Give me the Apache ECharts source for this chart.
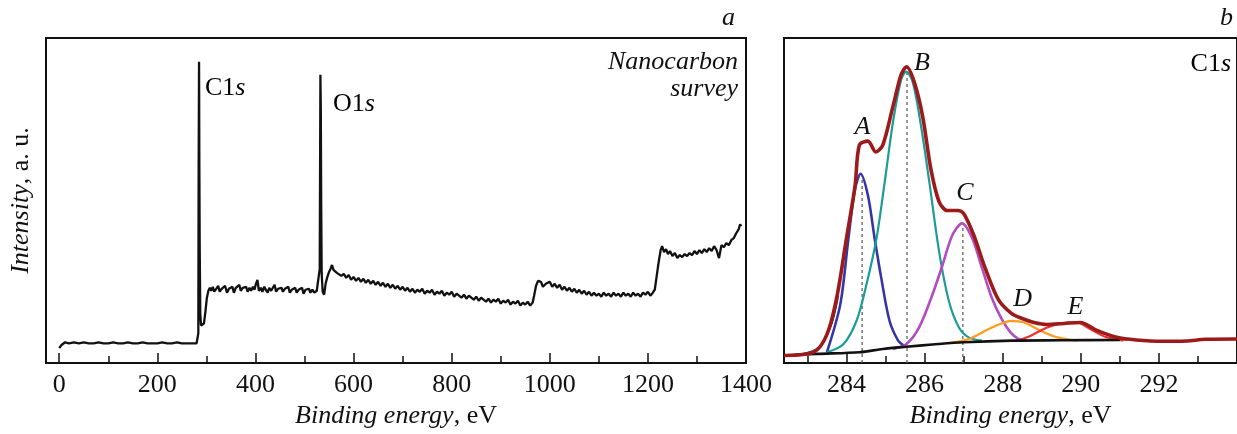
<!DOCTYPE html>
<html>
<head>
<meta charset="utf-8">
<script src="https://cdn.jsdelivr.net/npm/echarts@6/dist/echarts.min.js"></script>
<style>
  html, body { margin: 0; padding: 0; background: #fff; }
  #chart { width: 1237px; height: 434px; }
</style>
</head>
<body>
<div id="chart"></div>
<script>
  /** Data: survey spectrum (panel a) */
  var surveyData = [
    [0,15],[4,18],[8,20],[12,21],[20,20],[30,21],[40,20],[50,21],[60,20],[70,20],[80,21],[90,20],
    [100,20],[110,21],[120,20],[130,20],[140,21],[150,20],[160,20],[170,21],[180,20],[190,20],
    [200,20],[210,21],[220,20],[230,20],[240,21],[250,20],[260,20],[270,20],[280,20],
    [282,22],[283.5,30],[284.2,198],[285,304],[285.6,200],[286.3,120],[287.5,50],[289,38],[292,36],
    [295,40],[298,52],[301,66],[304,73],[307,76],
    [310,73],[313,77],[316,72],[320,75],[324,78],[327,72],[331,75],[335,73],[338,78],[342,71],
    [346,75],[349,74],[353,77],[356,71],[360,76],[363,74],[367,79],[370,73],[374,76],[377,74],
    [381,77],[384,72],[388,76],[391,73],[395,77],[398,74],[401,80],[404,84],[407,73],[411,76],
    [414,72],[418,77],[421,74],[425,71],[428,76],[432,73],[435,75],[439,79],[442,72],[446,75],
    [449,73],[453,76],[456,72],[460,75],[463,73],[467,77],[470,71],[474,74],[477,72],[481,76],
    [484,71],[488,74],[491,72],[495,76],[498,70],[502,74],[505,72],[509,75],[512,71],[516,74],
    [520,71],[525,73],[529,72],[531,95],[532.4,291],[533.2,256],[534,160],
    [535,90],[537,72],[540,69],[543,80],[546,86],[550,92],[553,95],[556,99],[559,94],[562,96],
    [566,91],[570,93],[575,88],[580,90],[585,86],[590,89],[595,84],[600,87],[605,83],[610,86],
    [615,82],[620,85],[625,81],[630,84],[635,80],[640,83],[645,79],[650,82],[655,78],[660,81],
    [665,77],[670,80],[675,76],[680,79],[685,75],[690,78],[695,74],[700,77],[705,73],[710,76],
    [715,72],[720,75],[725,71],[730,74],[735,72],[740,75],[745,70],[750,73],[755,71],[760,74],
    [765,69],[770,72],[775,70],[780,73],[785,68],[790,71],[795,69],[800,72],[805,67],[810,70],
    [815,68],[820,66],[825,69],[830,65],[835,68],[840,66],[845,64],[850,67],[855,63],[860,66],
    [865,64],[870,62],[875,65],[880,61],[885,64],[890,62],[895,65],[900,60],[905,63],[910,61],
    [915,64],[920,59],[925,62],[930,60],[935,63],[940,58],[945,61],[950,59],[955,62],[960,58],
    [965,61],[968,68],[972,78],[976,83],[979,85],[982,82],[986,77],[989,76],[992,80],[996,78],
    [1000,82],[1005,77],[1010,80],[1015,76],[1020,79],[1025,74],[1030,77],[1035,73],[1040,76],
    [1045,72],[1050,75],[1055,71],[1060,74],[1065,70],[1070,73],[1075,69],[1080,72],[1085,68],
    [1090,71],[1095,68],[1100,70],[1105,67],[1110,71],[1115,68],[1120,70],[1125,67],[1130,71],
    [1135,68],[1140,70],[1145,67],[1150,71],[1155,68],[1160,70],[1165,67],[1170,71],[1175,68],
    [1180,70],[1185,67],[1190,71],[1195,69],[1200,72],[1205,68],[1210,71],[1214,74],[1218,88],
    [1222,102],[1226,114],[1229,118],[1233,112],[1237,115],[1241,110],[1245,113],[1250,108],
    [1255,111],[1260,106],[1265,109],[1270,107],[1275,110],[1280,108],[1285,111],[1290,109],
    [1295,113],[1300,110],[1305,114],[1310,111],[1315,115],[1320,112],[1325,116],[1330,113],
    [1335,118],[1340,114],[1345,106],[1350,119],[1355,117],[1360,121],[1365,119],[1370,124],
    [1375,126],[1380,131],[1385,135],[1388,140],[1390,138]
  ];
  var surveyTicks = [0, 200, 400, 600, 800, 1000, 1200, 1400];
  var surveyMinor = [100, 300, 500, 700, 900, 1100, 1300];

  /** Data: C1s fit (panel b) */
  var envelope = [
    [282.4,7.7],[283.16,11],[283.5,29],[283.75,66],[284.0,126],[284.22,179],[284.33,220],
    [284.55,224],[284.75,213],[284.93,220],[285.19,259],[285.4,291],[285.54,299],[285.74,283],
    [285.95,249],[286.16,196],[286.37,163],[286.58,154],[286.84,154],[287.0,151],[287.26,129],
    [287.55,96],[287.89,64],[288.23,50],[288.5,45],[288.8,41],[289.14,39],[289.57,40],
    [289.99,41],[290.41,33],[290.92,26],[291.42,23.3],[292.1,22],[292.7,22.3],[293.2,24],[294.0,24.3]
  ];
  var rawData = [
    [282.4,8],[282.9,10],[283.2,14],[283.45,24],[283.65,42],[283.8,68],'-',
    [290.1,38],[290.35,32],[290.6,27],[290.9,24.5],[291.2,23]
  ];
  var baseline = [
    [282.4,7.7],[283.25,9.3],[284.34,11],[284.93,14.3],[285.53,16.5],[286.2,18.7],[287.0,21],
    [288.23,22.7],[289.5,23],[291.0,23.3]
  ];
  var compA = [
    [283.5,11],[283.84,59],[284.05,126],[284.22,176],[284.36,191],[284.55,169],[284.72,126],
    [284.89,86],[285.1,43],[285.32,23],[285.48,17.5]
  ];
  var compB = [
    [283.5,11],[283.92,19],[284.26,43],[284.51,79],[284.77,126],[284.98,183],[285.19,243],
    [285.4,286],[285.53,294],[285.7,283],[285.91,239],[286.12,183],[286.37,113],[286.62,63],
    [286.88,36],[287.13,26],[287.47,22.7]
  ];
  var compC = [
    [285.19,14.3],[285.53,19],[285.86,36],[286.2,69],[286.46,99],[286.71,129],[286.96,141],
    [287.22,126],[287.47,96],[287.72,66],[287.98,44],[288.2,31],[288.4,24.5],[288.6,23]
  ];
  var compD = [
    [286.62,20],[287.13,24.3],[287.64,34.3],[288.0,40.5],[288.23,42.7],[288.55,41],[288.97,32.7],
    [289.4,26],[289.9,22.7]
  ];
  var compE = [
    [288.38,22.7],[288.72,27.7],[289.14,36],[289.57,40.3],[289.9,41],[290.24,34.3],[290.66,26],
    [291.09,22.7]
  ];
  var peakNames = ['A', 'B', 'C', 'D', 'E'];
  var peakLabelAt = [[284.41,238],[285.93,303],[287.03,171],[288.51,64],[289.86,56]];
  var peakCentres = [284.4, 285.55, 286.98];
  var peakTops = [191, 294, 141];
  var fitTicks = [284, 286, 288, 290, 292];
  var fitMinor = [283, 285, 287, 289, 291, 293];

  var SERIF = "'Liberation Serif', 'DejaVu Serif', serif";
  var INK = '#111';
  var FS = 26;

  function dropLines() {
    return peakCentres.map(function(x, i) {
      return {
        type: 'line', xAxisIndex: 2, yAxisIndex: 1, symbol: 'none', z: 1,
        lineStyle: { color: '#555', width: 1.2, type: [3, 3] },
        data: [[x, 0], [x, peakTops[i]]]
      };
    });
  }

  function fitLine(data, color, width, z) {
    return {
      type: 'line', xAxisIndex: 2, yAxisIndex: 1, symbol: 'none', smooth: 0.3, z: z,
      lineStyle: { color: color, width: width }, data: data
    };
  }

  var nameRich = {
    i: { fontFamily: SERIF, fontSize: FS, fontStyle: 'italic', color: INK },
    n: { fontFamily: SERIF, fontSize: FS, color: INK }
  };

  function mainX(grid, min, max, ticks) {
    return {
      type: 'value', gridIndex: grid, min: min, max: max, position: 'bottom',
      name: '{i|Binding energy}{n|, eV}', nameLocation: 'middle', nameGap: 38,
      nameTextStyle: { rich: nameRich },
      axisLine: { lineStyle: { color: INK, width: 2 } },
      axisTick: { inside: true, length: 10, customValues: ticks, lineStyle: { color: INK, width: 1.5 } },
      axisLabel: {
        customValues: ticks, fontFamily: SERIF, fontSize: FS, color: INK, margin: 9,
        formatter: function(v) { return String(v); }
      },
      splitLine: { show: false }
    };
  }
  function minorX(grid, min, max, ticks) {
    return {
      type: 'value', gridIndex: grid, min: min, max: max, position: 'bottom',
      axisLine: { show: false },
      axisTick: { inside: true, length: 7, customValues: ticks, lineStyle: { color: INK, width: 1.5 } },
      axisLabel: { show: false }, splitLine: { show: false }
    };
  }

  var option = {
    backgroundColor: '#fff',
    animation: false,
    grid: [
      { left: 46, top: 38, width: 700, height: 328, show: true, borderColor: INK, borderWidth: 2 },
      { left: 784, top: 38, width: 456, height: 328, show: true, borderColor: INK, borderWidth: 2 }
    ],
    xAxis: [
      mainX(0, -27, 1400, surveyTicks),
      minorX(0, -27, 1400, surveyMinor),
      mainX(1, 282.4, 294.0, fitTicks),
      minorX(1, 282.4, 294.0, fitMinor)
    ],
    yAxis: [
      {
        type: 'value', gridIndex: 0, min: 0, max: 328,
        name: '{i|Intensity}{n|, a. u.}', nameLocation: 'middle', nameGap: 12,
        nameTextStyle: { rich: nameRich },
        axisLine: { show: false }, axisTick: { show: false }, axisLabel: { show: false },
        splitLine: { show: false }
      },
      {
        type: 'value', gridIndex: 1, min: 0, max: 328,
        axisLine: { show: false }, axisTick: { show: false }, axisLabel: { show: false },
        splitLine: { show: false }
      }
    ],
    series: [
      {
        type: 'line', xAxisIndex: 0, yAxisIndex: 0, symbol: 'none',
        lineStyle: { color: '#111', width: 2.3 }, data: surveyData
      }
    ].concat(dropLines()).concat([
      fitLine(compA, '#3535a8', 2.6, 3),
      fitLine(compB, '#1c9c98', 2.2, 3),
      fitLine(compC, '#b24cc0', 2.6, 3),
      fitLine(compD, '#ff9c1c', 2.2, 3),
      fitLine(compE, '#ee3030', 2.2, 3),
      fitLine(baseline, '#111', 2.6, 4),
      {
        type: 'line', xAxisIndex: 2, yAxisIndex: 1, symbol: 'none', smooth: 0.3, z: 2,
        connectNulls: false, lineStyle: { color: '#222', width: 1 }, data: rawData
      },
      fitLine(envelope, '#9c1a1a', 3.6, 5),
      {
        type: 'scatter', xAxisIndex: 2, yAxisIndex: 1, symbolSize: 0, z: 6,
        itemStyle: { opacity: 1 },
        data: peakLabelAt.map(function(p, i) { return { name: peakNames[i], value: p }; }),
        label: {
          show: true, position: 'inside', formatter: '{b}',
          fontFamily: SERIF, fontSize: FS, fontStyle: 'italic', color: INK
        }
      }
    ]),
    graphic: [
      { type: 'text', left: 205, top: 75, style: { text: '{n|C1}{i|s}', rich: nameRich } },
      { type: 'text', left: 333, top: 91, style: { text: '{n|O1}{i|s}', rich: nameRich } },
      { type: 'text', right: 499, top: 49, style: { text: 'Nanocarbon', font: "italic 26px 'Liberation Serif'", fill: INK, align: 'right' } },
      { type: 'text', right: 499, top: 76, style: { text: 'survey', font: "italic 26px 'Liberation Serif'", fill: INK, align: 'right' } },
      { type: 'text', left: 722, top: 5, style: { text: 'a', font: "italic 26px 'Liberation Serif'", fill: INK } },
      { type: 'text', left: 1220, top: 5, style: { text: 'b', font: "italic 26px 'Liberation Serif'", fill: INK } },
      { type: 'text', right: 6, top: 51, style: { text: '{n|C1}{i|s}', rich: nameRich } }
    ]
  };

  echarts.init(document.getElementById('chart')).setOption(option);
</script>
</body>
</html>
